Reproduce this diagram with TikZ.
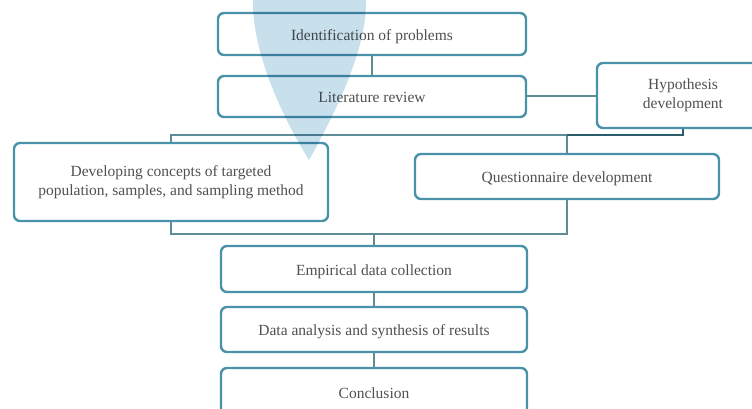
\documentclass[tikz,border=0pt]{standalone}
\usepackage{fontspec}
\setmainfont{Liberation Serif}
\usetikzlibrary{math}
\definecolor{boxblue}{RGB}{74,146,170}
\definecolor{linkgray}{RGB}{96,140,152}
\definecolor{hypdark}{RGB}{42,92,108}
\definecolor{dropblue}{RGB}{200,223,236}
\definecolor{txtgray}{RGB}{80,80,80}

\tikzset{
stage/.style={draw=boxblue, line width=2.4pt, rounded corners=6pt, fill=white, align=center, text=txtgray, font=\fontsize{15.5}{19}\selectfont},
oneline/.style={stage, text height=16pt, text depth=3.5pt},
link/.style={draw=linkgray, line width=2pt},
}

\begin{document}
\begin{tikzpicture}[x=1pt,y=-1pt]
\tikzmath{
\W=306;
\cx=374;
}
\clip (0,0) rectangle (752,409);

% frame round the two parallel steps
\coordinate (ftl) at (171,135);
\coordinate (fbr) at (567,234);
\draw[link] (ftl) rectangle (fbr);

\node[oneline, minimum width=308, minimum height=42] (ident) at (372,34) {Identification of problems};
\node[oneline, minimum width=308, minimum height=41] (litrev) at (372,96.5) {Literature review};
\node[stage, minimum width=172, minimum height=65] (hypo) at (683,95.5) {Hypothesis\\development};
\node[stage, minimum width=314, minimum height=78] (concept) at (171,182) {Developing concepts of targeted\\population, samples, and sampling method};
\node[oneline, minimum width=304, minimum height=45] (quest) at (567,176.5) {Questionnaire development};
\node[oneline, minimum width=\W, minimum height=46] (empir) at (\cx,269) {Empirical data collection};
\node[oneline, minimum width=\W, minimum height=45] (analysis) at (\cx,329.5) {Data analysis and synthesis of results};
\node[oneline, minimum width=\W, minimum height=48] (concl) at (\cx,392) {Conclusion};

\draw[link] (ident.south) -- (litrev.north);
\draw[link] (litrev.east) -- (litrev.east -| hypo.west);
\draw[link, draw=hypdark] (hypo.south) |- (quest.north |- ftl);
\draw[link] (empir.north) -- (empir.north |- fbr);
\draw[link] (empir.south) -- (analysis.north);
\draw[link] (analysis.south) -- (concl.north);

% pointer drop
\fill[dropblue, blend mode=multiply] (309,160) .. controls (275,105) and (252,45) .. (253,0) -- (253,-20) -- (366,-20) -- (366,0) .. controls (367,45) and (340,105) .. (309,160) -- cycle;
\end{tikzpicture}
\end{document}
